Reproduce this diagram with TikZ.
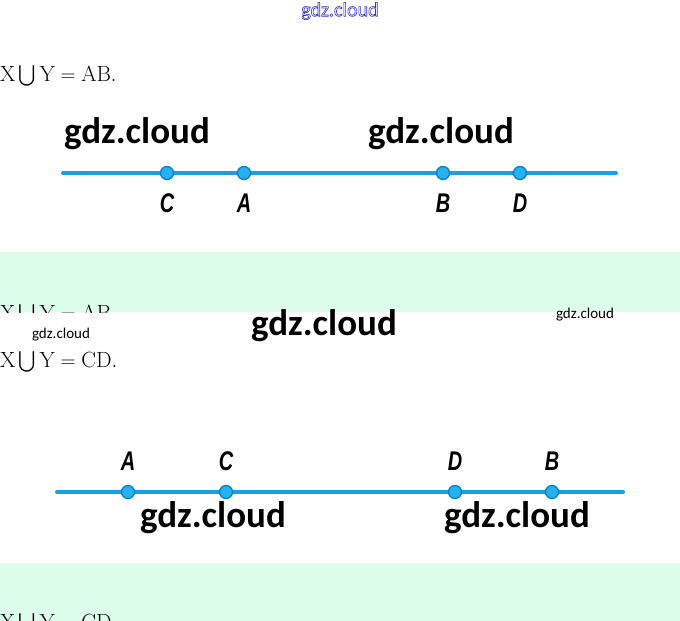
\documentclass[tikz,border=0pt]{standalone}
\usepackage{fontspec}
\usepackage{amsmath}
\newfontfamily\wmfont{Carlito}
\newfontfamily\lblfont{Liberation Sans}
\definecolor{linecol}{HTML}{1A9FE0}
\definecolor{ptfill}{HTML}{25B2F0}
\definecolor{ptedge}{HTML}{0A80C4}
\definecolor{bandgreen}{HTML}{DCFDE9}
\definecolor{wmblue}{HTML}{3030D0}
\newcommand{\lab}[1]{\scalebox{0.74}[1]{#1}}
\newcommand{\outlinetext}[1]{\special{pdf:literal direct 1 Tr 0.6 w}#1\special{pdf:literal direct 0 Tr}}
\tikzset{
  wmbig/.style={font=\wmfont\bfseries\fontsize{37}{37}\selectfont, inner sep=0pt},
  wmsmall/.style={font=\wmfont\fontsize{15}{15}\selectfont, inner sep=0pt},
  wmtop/.style={font=\wmfont\fontsize{20}{20}\selectfont, text=wmblue, inner sep=0pt},
  eqtext/.style={font=\fontsize{22}{22}\selectfont, inner sep=0pt, anchor=base west},
  ptnode/.style={circle, fill=ptfill, draw=ptedge, line width=1.3pt, minimum size=13pt, inner sep=0pt},
  ptlabel/.style={font=\lblfont\bfseries\itshape\fontsize{27}{27}\selectfont, inner sep=0pt},
  segline/.style={draw=linecol, line width=4pt, line cap=round}
}
\begin{document}
\begin{tikzpicture}[x=1pt,y=-1pt]
\useasboundingbox (0,0) rectangle (680,621);
\fill[white] (0,0) rectangle (680,621);
% green bands
\fill[bandgreen] (0,252) rectangle (680,312);
\fill[bandgreen] (0,563) rectangle (680,621);
\begin{scope}
\clip (0,252) rectangle (680,312);
\node[eqtext] (eqAc) at (0,320) {$\mathrm{X}\bigcup\mathrm{Y}=\mathrm{AB}$};
\end{scope}
\begin{scope}
\clip (0,563) rectangle (680,621);
\node[eqtext] (eqCc) at (0,629) {$\mathrm{X}\bigcup\mathrm{Y}=\mathrm{CD}$};
\end{scope}
% top watermark
\node[wmtop] (wtop) at (340,11) {\outlinetext{gdz.cloud}};
% equations
\node[eqtext] (eqA) at (0,81) {$\mathrm{X}\bigcup\mathrm{Y}=\mathrm{AB}.$};
\node[eqtext] (eqC) at (0,367) {$\mathrm{X}\bigcup\mathrm{Y}=\mathrm{CD}.$};
% first line
\coordinate (L1s) at (63,173);
\coordinate (L1e) at (616,173);
\draw[segline] (L1s) -- (L1e);
\node[ptnode] (C1) at (167,173) {};
\node[ptnode] (A1) at (244,173) {};
\node[ptnode] (B1) at (443,173) {};
\node[ptnode] (D1) at (520,173) {};
\node[ptlabel] (lC1) at (167,203) {\lab{C}};
\node[ptlabel] (lA1) at (244,203) {\lab{A}};
\node[ptlabel] (lB1) at (443,203) {\lab{B}};
\node[ptlabel] (lD1) at (520,203) {\lab{D}};
% second line
\coordinate (L2s) at (57,492);
\coordinate (L2e) at (623,492);
\draw[segline] (L2s) -- (L2e);
\node[ptnode] (A2) at (128,492) {};
\node[ptnode] (C2) at (226,492) {};
\node[ptnode] (D2) at (455,492) {};
\node[ptnode] (B2) at (552,492) {};
\node[ptlabel] (lA2) at (128,461) {\lab{A}};
\node[ptlabel] (lC2) at (226,461) {\lab{C}};
\node[ptlabel] (lD2) at (455,461) {\lab{D}};
\node[ptlabel] (lB2) at (552,461) {\lab{B}};
% watermarks
\node[wmbig] (w1) at (137,134) {gdz.cloud};
\node[wmbig] (w2) at (441,134) {gdz.cloud};
\node[wmbig] (w3) at (324,326) {gdz.cloud};
\node[wmsmall] (w4) at (61,335) {gdz.cloud};
\node[wmsmall] (w5) at (585,315) {gdz.cloud};
\node[wmbig] (w6) at (213,518) {gdz.cloud};
\node[wmbig] (w7) at (517,518) {gdz.cloud};
\end{tikzpicture}
\end{document}
